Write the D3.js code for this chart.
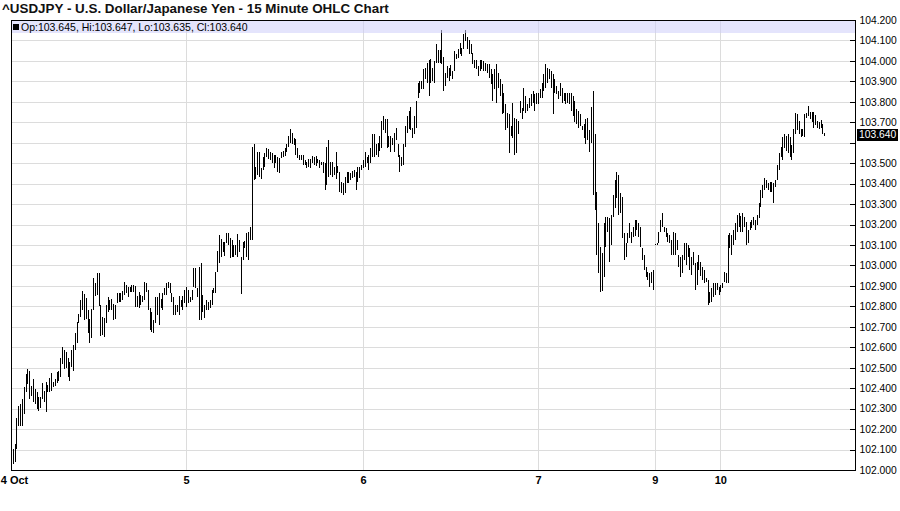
<!DOCTYPE html>
<html>
<head>
<meta charset="utf-8">
<script src="https://cdn.jsdelivr.net/npm/d3@7"></script>
<style>
  body { margin: 0; background: #fff; }
  svg { display: block; }
</style>
</head>
<body>
<div id="chart"></div>
<script>

// 15 minute bars, [high, low], one array per trading day
var oct4 = [
  [102.234,102.063],[102.102,102.029],[102.126,102.039],[102.253,102.102],[102.311,102.214],
  [102.321,102.214],[102.346,102.214],[102.404,102.273],[102.467,102.380],[102.492,102.419],
  [102.482,102.346],[102.409,102.360],[102.443,102.331],[102.394,102.321],[102.380,102.297],
  [102.355,102.287],[102.355,102.302],[102.423,102.346],[102.385,102.331],[102.428,102.282],
  [102.414,102.380],[102.448,102.380],[102.472,102.385],[102.428,102.404],[102.443,102.409],
  [102.477,102.423],[102.482,102.433],[102.550,102.453],[102.599,102.516],[102.589,102.492],
  [102.579,102.501],[102.550,102.453],[102.530,102.433],[102.589,102.506],[102.613,102.482],
  [102.672,102.589],[102.725,102.623],[102.764,102.720],[102.832,102.750],[102.876,102.784],
  [102.862,102.735],[102.842,102.740],[102.784,102.672],[102.740,102.623],[102.788,102.647],
  [102.939,102.784],[102.915,102.852],[102.964,102.857],[102.964,102.803],[102.808,102.657],
  [102.750,102.662],[102.745,102.652],[102.808,102.720],[102.847,102.774],[102.832,102.784],
  [102.837,102.784],[102.813,102.735],[102.808,102.740],[102.866,102.818],[102.866,102.823],
  [102.866,102.823],[102.876,102.832],[102.920,102.857],[102.905,102.866],[102.896,102.847],
  [102.896,102.871],[102.905,102.871],[102.905,102.871],[102.900,102.798],[102.852,102.798],
  [102.871,102.793],[102.857,102.808],[102.852,102.823],[102.920,102.832],[102.915,102.871],
  [102.881,102.784],[102.793,102.686],[102.774,102.676],[102.735,102.672],[102.847,102.720],
  [102.847,102.759],[102.866,102.711],[102.837,102.793],[102.866,102.784],[102.891,102.857],
  [102.915,102.857],[102.920,102.891],[102.915,102.866],[102.866,102.823],[102.847,102.759],
  [102.808,102.759],[102.808,102.774],[102.852,102.759],[102.832,102.798],[102.852,102.784],
  [102.881,102.818]
];

var oct5 = [
  [102.896,102.798],[102.881,102.818],[102.847,102.823],[102.881,102.832],[102.988,102.896],
  [102.988,102.891],[102.891,102.847],[102.993,102.735],[103.012,102.735],[102.857,102.774],
  [102.808,102.745],[102.832,102.784],[102.823,102.784],[102.832,102.793],[102.881,102.808],
  [102.891,102.866],[102.968,102.866],[103.071,102.968],[103.149,103.012],[103.129,103.042],
  [103.115,103.066],[103.115,103.046],[103.158,103.110],[103.158,103.100],[103.134,103.037],
  [103.124,103.042],[103.100,103.042],[103.100,103.051],[103.154,103.042],[103.124,103.066],
  [103.042,102.862],[103.115,103.027],[103.119,103.085],[103.158,103.042],[103.163,103.027],
  [103.188,103.124],[103.577,103.124],[103.592,103.416],[103.480,103.421],[103.557,103.441],
  [103.553,103.431],[103.475,103.421],[103.528,103.465],[103.548,103.480],[103.572,103.528],
  [103.567,103.519],[103.553,103.514],[103.548,103.499],[103.538,103.475],[103.538,103.499],
  [103.528,103.455],[103.523,103.450],[103.553,103.523],[103.562,103.528],[103.572,103.533],
  [103.596,103.553],[103.635,103.577],[103.665,103.601],[103.650,103.592],[103.621,103.587],
  [103.616,103.538],[103.572,103.523],[103.538,103.514],[103.538,103.514],[103.538,103.489],
  [103.514,103.489],[103.504,103.475],[103.519,103.480],[103.519,103.475],[103.533,103.499],
  [103.528,103.489],[103.533,103.484],[103.519,103.499],[103.514,103.475],[103.504,103.489],
  [103.504,103.450],[103.499,103.368],[103.577,103.392],[103.611,103.431],[103.504,103.441],
  [103.504,103.431],[103.480,103.441],[103.557,103.421],[103.484,103.450],[103.455,103.358],
  [103.407,103.353],[103.402,103.343],[103.431,103.353],[103.455,103.402],[103.455,103.402],
  [103.450,103.416],[103.460,103.426],[103.465,103.431],[103.455,103.368],[103.480,103.407],
  [103.480,103.426],[103.489,103.465]
];

var oct6 = [
  [103.514,103.475],[103.553,103.480],[103.528,103.499],[103.538,103.465],[103.572,103.499],
  [103.645,103.528],[103.645,103.528],[103.596,103.538],[103.601,103.528],[103.635,103.562],
  [103.708,103.572],[103.733,103.660],[103.718,103.650],[103.718,103.572],[103.635,103.577],
  [103.631,103.553],[103.621,103.587],[103.650,103.553],[103.674,103.611],[103.596,103.528],
  [103.538,103.455],[103.528,103.484],[103.596,103.489],[103.684,103.577],[103.733,103.650],
  [103.757,103.669],[103.777,103.660],[103.674,103.621],[103.733,103.645],[103.806,103.674],
  [103.893,103.820],[103.903,103.845],[103.903,103.864],[103.961,103.864],[103.966,103.913],
  [103.991,103.893],[104.005,103.830],[104.010,103.893],[103.966,103.903],[104.000,103.893],
  [104.083,103.991],[104.054,103.991],[104.054,103.991],[104.151,103.986],[104.020,103.854],
  [103.942,103.879],[103.976,103.918],[103.966,103.903],[103.981,103.927],[103.952,103.913],
  [104.049,103.952],[104.035,104.010],[104.059,104.015],[104.088,104.035],[104.064,104.025],
  [104.132,104.059],[104.151,104.098],[104.117,104.059],[104.103,104.035],[104.083,104.035],
  [104.039,103.986],[104.005,103.966],[104.005,103.961],[103.976,103.927],[104.005,103.952],
  [104.005,103.961],[104.000,103.952],[103.991,103.952],[103.986,103.942],[103.986,103.918],
  [103.961,103.888],[103.937,103.806],[103.961,103.864],[103.986,103.796],[103.942,103.869],
  [103.913,103.830],[103.888,103.742],[103.845,103.747],[103.791,103.660],[103.747,103.674],
  [103.742,103.548],[103.684,103.635],[103.796,103.621],[103.723,103.538],[103.718,103.548],
  [103.708,103.645],[103.806,103.747],[103.772,103.718],[103.869,103.757],[103.830,103.747],
  [103.791,103.757],[103.820,103.772],[103.840,103.781],[103.854,103.796],[103.840,103.757],
  [103.845,103.791]
];

var oct7 = [
  [103.845,103.791],[103.864,103.820],[103.893,103.820],[103.937,103.854],[103.986,103.869],
  [103.966,103.893],[103.961,103.913],[103.952,103.869],[103.937,103.742],[103.913,103.845],
  [103.879,103.840],[103.854,103.815],[103.893,103.830],[103.869,103.796],[103.845,103.806],
  [103.845,103.791],[103.845,103.796],[103.845,103.791],[103.845,103.757],[103.830,103.733],
  [103.806,103.699],[103.767,103.694],[103.757,103.674],[103.742,103.684],[103.684,103.660],
  [103.694,103.621],[103.718,103.596],[103.723,103.611],[103.660,103.553],[103.777,103.601],
  [103.854,103.343],[103.645,103.270],[103.358,103.051],[103.207,102.964],[103.090,102.871],
  [103.061,102.876],[103.207,102.944],[103.236,103.090],[103.236,103.163],[103.231,103.017],
  [103.246,103.100],[103.343,103.236],[103.416,103.280],[103.455,103.329],[103.441,103.246],
  [103.353,103.256],[103.334,103.134],[103.158,103.027],[103.110,103.042],[103.158,103.110],
  [103.207,103.134],[103.163,103.110],[103.188,103.139],[103.222,103.144],[103.222,103.173],
  [103.207,103.139],[103.188,103.090],[103.085,103.027],[103.051,102.978],[102.993,102.944],
  [102.968,102.930],[102.964,102.896],[102.968,102.915],[102.978,102.881]
];

var oct9 = [
  [103.105,103.100],[103.110,103.100],[103.163,103.110],[103.222,103.163],[103.256,103.188],
  [103.188,103.163],[103.183,103.139],[103.158,103.115],[103.149,103.110],[103.124,103.051],
  [103.163,103.051],[103.158,103.051],[103.124,103.076],[103.051,102.993],[103.042,102.944],
  [103.051,102.964],[103.110,103.027],[103.110,103.003],[103.100,103.042],[103.085,102.978],
  [103.042,102.954],[103.066,103.003],[103.012,102.881],[103.017,102.905],[103.051,102.978],
  [103.017,102.949],[102.993,102.930],[102.978,102.915],[102.939,102.920],[102.930,102.808],
  [102.871,102.818],[102.891,102.823],[102.915,102.847],[102.915,102.857],[102.915,102.881],
  [102.896,102.857]
];

var oct10 = [
  [102.905,102.871],[102.915,102.891],[102.968,102.920],[102.964,102.915],[103.149,102.915],
  [103.158,103.085],[103.149,103.051],[103.173,103.100],[103.207,103.124],[103.246,103.163],
  [103.256,103.188],[103.241,103.163],[103.256,103.163],[103.236,103.188],[103.212,103.100],
  [103.173,103.110],[103.212,103.173],[103.222,103.183],[103.236,103.197],[103.222,103.173],
  [103.246,103.197],[103.304,103.231],[103.368,103.285],[103.392,103.329],[103.426,103.368],
  [103.416,103.377],[103.402,103.368],[103.407,103.358],[103.407,103.358],[103.402,103.304],
  [103.416,103.382],[103.489,103.416],[103.548,103.465],[103.577,103.528],[103.626,103.514],
  [103.645,103.572],[103.631,103.562],[103.645,103.548],[103.626,103.528],[103.587,103.514],
  [103.665,103.548],[103.747,103.645],[103.742,103.660],[103.708,103.645],[103.669,103.626],
  [103.669,103.635],[103.742,103.626],[103.747,103.723],[103.781,103.733],[103.752,103.718],
  [103.752,103.699],[103.752,103.674],[103.738,103.689],[103.708,103.674],[103.699,103.669],
  [103.713,103.674],[103.694,103.645],[103.647,103.635]
];

var dayLabels = ["4 Oct", "5", "6", "7", "9", "10"];
var lastBar = {op: 103.645, hi: 103.647, lo: 103.635, cl: 103.640};
var priceTicks = [102.0, 102.1, 102.2, 102.3, 102.4, 102.5, 102.6, 102.7, 102.8, 102.9,
                  103.0, 103.1, 103.2, 103.3, 103.4, 103.5, 103.6, 103.7, 103.8, 103.9,
                  104.0, 104.1, 104.2];
var title = "^USDJPY - U.S. Dollar/Japanese Yen - 15 Minute OHLC Chart";

// glue the days together, remember where each day starts
var bars = [], dayStart = [];
[oct4, oct5, oct6, oct7, oct9, oct10].forEach(function(day) {
    dayStart.push(bars.length);
    day.forEach(function(b) { bars.push({hi: b[0], lo: b[1], i: bars.length}); });
});

var width = 900, height = 511;
var plot = {left: 11, right: 855, top: 20, bottom: 470};
var fontFamily = "'Liberation Sans', Arial, Helvetica, sans-serif";

var x = d3.scaleLinear()
    .domain([0, bars.length - 1])
    .range([11, 824.3]);

var y = d3.scaleLinear()
    .domain([102, 104.2])
    .range([plot.bottom, plot.top]);

var fmt = d3.format(".3f");

var svg = d3.select("#chart").append("svg")
    .attr("width", width)
    .attr("height", height)
    .style("font-family", fontFamily);

svg.append("rect")
    .attr("width", width).attr("height", height)
    .attr("fill", "#fff");

svg.append("text")
    .attr("x", 2)
    .attr("y", 13)
    .style("font-size", "13.4px")
    .style("font-weight", "bold")
    .attr("fill", "#111")
    .text(title);

// grid
var grid = svg.append("g").attr("shape-rendering", "crispEdges");

grid.selectAll("line.h")
    .data(priceTicks.filter(function(d) { return d > 102 && d < 104.2; }))
    .enter().append("line")
    .attr("class", "h")
    .attr("x1", plot.left).attr("x2", plot.right)
    .attr("y1", function(d) { return Math.round(y(d)) + 0.5; })
    .attr("y2", function(d) { return Math.round(y(d)) + 0.5; })
    .attr("stroke", "#dcdcdc");

grid.selectAll("line.v")
    .data(dayStart.slice(1))
    .enter().append("line")
    .attr("class", "v")
    .attr("x1", function(d) { return Math.round(x(d)) + 0.5; })
    .attr("x2", function(d) { return Math.round(x(d)) + 0.5; })
    .attr("y1", plot.top).attr("y2", plot.bottom)
    .attr("stroke", "#dcdcdc");

// the bars themselves
svg.append("g")
    .attr("shape-rendering", "crispEdges")
    .selectAll("line")
    .data(bars)
    .enter().append("line")
    .attr("x1", function(d) { return Math.round(x(d.i)) + 0.5; })
    .attr("x2", function(d) { return Math.round(x(d.i)) + 0.5; })
    .attr("y1", function(d) { return y(d.hi); })
    .attr("y2", function(d) { return Math.max(y(d.lo), y(d.hi) + 1); })
    .attr("stroke", "#000")
    .attr("stroke-width", 1);

// legend band across the top of the plot
svg.append("rect")
    .attr("x", plot.left).attr("y", plot.top)
    .attr("width", plot.right - plot.left).attr("height", 13)
    .attr("fill", "rgb(205,205,250)")
    .attr("fill-opacity", 0.55);

svg.append("rect")
    .attr("x", 13).attr("y", 24)
    .attr("width", 6).attr("height", 6)
    .attr("fill", "#000");

svg.append("text")
    .attr("x", 21)
    .attr("y", 30.5)
    .style("font-size", "10.5px")
    .attr("fill", "#000")
    .text("Op:" + fmt(lastBar.op) + ", Hi:" + fmt(lastBar.hi) +
          ", Lo:" + fmt(lastBar.lo) + ", Cl:" + fmt(lastBar.cl));

// frame
svg.append("rect")
    .attr("x", plot.left + 0.5).attr("y", plot.top + 0.5)
    .attr("width", plot.right - plot.left).attr("height", plot.bottom - plot.top)
    .attr("fill", "none")
    .attr("stroke", "#000")
    .attr("shape-rendering", "crispEdges");

// price axis on the right, ticks point inwards
var yAxis = svg.append("g")
    .attr("transform", "translate(" + (plot.right + 0.5) + ",0)")
    .call(d3.axisRight(y)
        .tickValues(priceTicks)
        .tickSize(-6)
        .tickPadding(4)
        .tickFormat(fmt));

yAxis.select(".domain").remove();
yAxis.selectAll(".tick line").attr("stroke", "#000").attr("shape-rendering", "crispEdges");
yAxis.selectAll(".tick text")
    .style("font-family", fontFamily)
    .style("font-size", "10.3px")
    .attr("fill", "#000")
    .style("display", function(d) {
        return Math.abs(y(d) - y(lastBar.cl)) < 10 ? "none" : null;
    });

// last price marker
var lastY = y(lastBar.cl);
svg.append("rect")
    .attr("x", 857).attr("y", Math.round(lastY) - 6)
    .attr("width", 41).attr("height", 12)
    .attr("fill", "#000");

svg.append("text")
    .attr("x", 859)
    .attr("y", lastY)
    .attr("dy", "0.34em")
    .style("font-size", "10.3px")
    .attr("fill", "#fff")
    .text(fmt(lastBar.cl));

// day labels under the plot
var xAxis = svg.append("g")
    .attr("transform", "translate(0," + (plot.bottom + 0.5) + ")")
    .call(d3.axisBottom(x)
        .tickValues(dayStart)
        .tickSize(0)
        .tickPadding(6)
        .tickFormat(function(d, i) { return dayLabels[i]; }));

xAxis.select(".domain").remove();
xAxis.selectAll(".tick text")
    .style("font-family", fontFamily)
    .style("font-size", "11px")
    .style("font-weight", "bold")
    .attr("fill", "#000")
    .attr("dx", function(d, i) { return i === 0 ? 3 : 0; });

</script>
</body>
</html>
